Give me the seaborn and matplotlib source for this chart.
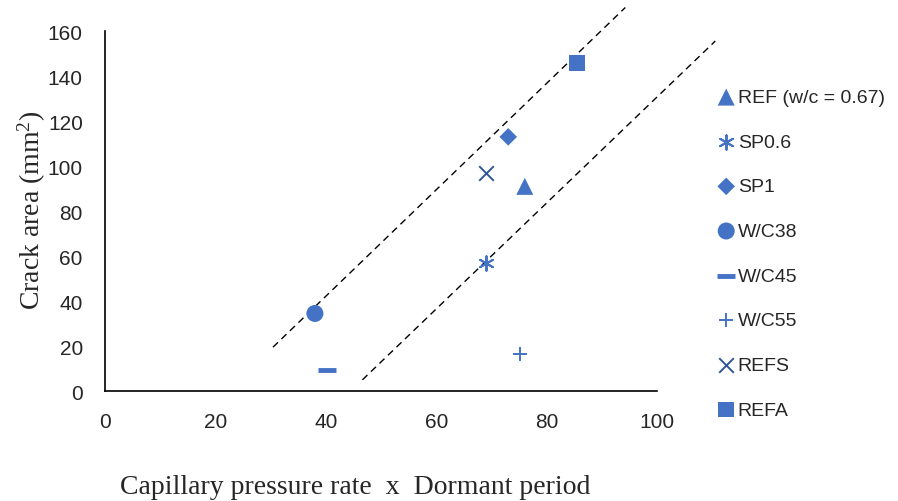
import matplotlib
matplotlib.use("Agg")
import matplotlib.pyplot as plt
import seaborn as sns

# Data
series = ["REF (w/c = 0.67)", "SP0.6", "SP1", "W/C38", "W/C45", "W/C55", "REFS", "REFA"]
x_vals = [76, 69, 73, 38, 40.2, 75.2, 69, 85.5]
y_vals = [91, 57, 113, 34.5, 9.3, 16.4, 97, 146]

# Guide (dashed) lines: endpoints
upper_x = [30.4, 94.2]
upper_y = [19.5, 170.5]
lower_x = [46.6, 110.5]
lower_y = [5.0, 155.6]

x_ticks = [0, 20, 40, 60, 80, 100]
y_ticks = [0, 20, 40, 60, 80, 100, 120, 140, 160]

sns.set_theme(style="white")
plt.rcParams["font.family"] = ["Liberation Sans", "DejaVu Sans"]
plt.rcParams["mathtext.fontset"] = "custom"
plt.rcParams["mathtext.rm"] = "Liberation Serif"
plt.rcParams["mathtext.it"] = "Liberation Serif:italic"

blue = "#4472C4"
dark = "#2F5597"
styles = [
    dict(marker="^", s=150, color=blue, edgecolor="none"),
    dict(marker=(6, 2, 0), s=110, color=blue, linewidth=1.4),
    dict(marker="D", s=80, color=blue, edgecolor="none"),
    dict(marker="o", s=150, color=blue, edgecolor="none"),
    dict(marker="_", s=180, color=blue, linewidth=3.5),
    dict(marker="+", s=110, color=blue, linewidth=1.4),
    dict(marker="x", s=110, color=dark, linewidth=1.4),
    dict(marker="s", s=130, color=blue, edgecolor="none"),
]

fig = plt.figure(figsize=(8.98, 5.02), dpi=100)
ax = fig.add_axes([0.117, 0.219, 0.615, 0.717])

sns.lineplot(x=upper_x, y=upper_y, ax=ax, color="black", linewidth=1.0,
             linestyle=(0, (5, 3.5)), clip_on=False, zorder=1)
sns.lineplot(x=lower_x, y=lower_y, ax=ax, color="black", linewidth=1.0,
             linestyle=(0, (5, 3.5)), clip_on=False, zorder=1)

for name, xv, yv, st in zip(series, x_vals, y_vals, styles):
    sns.scatterplot(x=[xv], y=[yv], ax=ax, label=name, zorder=3, **st)

ax.set_xlim(0, 100)
ax.set_ylim(0, 160)
ax.set_xticks(x_ticks)
ax.set_yticks(y_ticks)
ax.tick_params(axis="both", labelsize=15, length=0)
ax.tick_params(axis="x", pad=15)
ax.tick_params(axis="y", pad=16)
for side in ["top", "right"]:
    ax.spines[side].set_visible(False)
for side in ["left", "bottom"]:
    ax.spines[side].set_color("black")
    ax.spines[side].set_linewidth(1.2)

ax.set_xlabel("Capillary pressure rate  x  Dormant period", fontsize=20,
              family=["Liberation Serif"], va="center")
ax.xaxis.set_label_coords(0.453, -0.264)
ax.set_ylabel("Crack area (mm$^2$)", fontsize=20, family=["Liberation Serif"], va="center")
ax.yaxis.set_label_coords(-0.133, 0.506)

ax.legend(loc="upper left", bbox_to_anchor=(1.093, 0.862), frameon=False,
          fontsize=14, labelspacing=1.39, handletextpad=0.1, handlelength=1.0,
          borderaxespad=0)

fig.savefig("out.png", dpi=100)
